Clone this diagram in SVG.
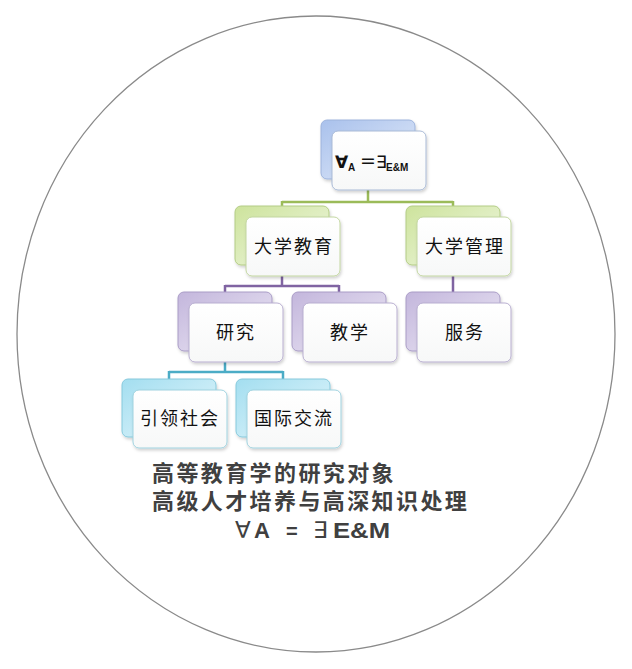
<svg xmlns="http://www.w3.org/2000/svg" width="632" height="669" viewBox="0 0 632 669">
<defs>
<linearGradient id="gB" x1="0" y1="0" x2="1" y2="1"><stop offset="0" stop-color="#a9c1ec"/><stop offset="1" stop-color="#e4ecfa"/></linearGradient>
<linearGradient id="gG" x1="0" y1="0" x2="1" y2="1"><stop offset="0" stop-color="#cde39c"/><stop offset="1" stop-color="#f1f8e4"/></linearGradient>
<linearGradient id="gP" x1="0" y1="0" x2="1" y2="1"><stop offset="0" stop-color="#c3b6dc"/><stop offset="1" stop-color="#eeeaf6"/></linearGradient>
<linearGradient id="gT" x1="0" y1="0" x2="1" y2="1"><stop offset="0" stop-color="#a3def0"/><stop offset="1" stop-color="#e6f7fc"/></linearGradient>
<linearGradient id="gF" x1="0" y1="0" x2="0" y2="1"><stop offset="0" stop-color="#ffffff"/><stop offset="1" stop-color="#f7f8f8"/></linearGradient>
<filter id="sh" x="-10%" y="-10%" width="125%" height="130%"><feDropShadow dx="1" dy="2" stdDeviation="1.5" flood-color="#000" flood-opacity="0.18"/></filter>
</defs>
<style>
.back{stroke-width:1;filter:url(#sh)}
.front{fill:url(#gF);stroke-width:1;filter:url(#sh)}
.b .back{fill:url(#gB);stroke:#9db3dc}
.b .front{stroke:#a9bad6}
.g .back{fill:url(#gG);stroke:#b3cc85}
.g .front{stroke:#c2d6a0}
.p .back{fill:url(#gP);stroke:#a99cc6}
.p .front{stroke:#b8aed0}
.t .back{fill:url(#gT);stroke:#86c9dc}
.t .front{stroke:#9fd2df}
.lbl{font-family:"Noto Sans CJK SC","Noto Sans",sans-serif;font-size:18px;letter-spacing:2px;fill:#111;text-anchor:middle}
.conn{fill:none;stroke-width:2.5}
.big{font-family:"Noto Sans CJK SC","Noto Sans",sans-serif;font-weight:bold;font-size:22px;letter-spacing:2.4px;fill:#404040}
.sym{font-family:"DejaVu Sans",sans-serif;fill:#111}
.sub{font-family:"Liberation Sans",Arial,sans-serif;font-weight:bold;font-size:10px;fill:#111}
.f3{font-family:"Liberation Sans",Arial,sans-serif;font-weight:bold;font-size:22px;fill:#404040}
.s3{font-family:"DejaVu Sans",sans-serif;font-size:23px;font-weight:normal;fill:#404040}
</style>
<ellipse cx="316" cy="334" rx="299" ry="318" fill="#fff" stroke="#8a8a8a" stroke-width="1.3"/>
<g id="connectors">
<path class="conn" stroke="#9bbb59" d="M368,190 V202 M282,202 H453 M282,201 V207 M453,201 V207"/>
<path class="conn" stroke="#8064a2" d="M282,276 V286 M225,286 H339 M225,285 V293 M339,285 V293 M453,276 V293"/>
<path class="conn" stroke="#4bacc6" d="M225,362 V372 M169,372 H283 M169,371 V380 M283,371 V380"/>
</g>
<g id="n-top" class="b">
<rect class="back" x="321" y="120" width="94" height="59" rx="6"/>
<rect class="front" x="332" y="131" width="94" height="59" rx="6"/>
<text class="sym" x="335" y="168" font-size="17" font-weight="bold">∀</text>
<text class="sub" x="348" y="171">A</text>
<text class="sym" x="360" y="167" font-size="19">=</text>
<text class="sym" x="376" y="168" font-size="17">∃</text>
<text class="sub" x="386" y="171">E&amp;M</text>
</g>
<g id="n-jiaoyu" class="g">
<rect class="back" x="235" y="206" width="94" height="59" rx="6"/>
<rect class="front" x="246" y="217" width="94" height="59" rx="6"/>
<text class="lbl" x="294" y="253">大学教育</text>
</g>
<g id="n-guanli" class="g">
<rect class="back" x="406" y="206" width="94" height="59" rx="6"/>
<rect class="front" x="417" y="217" width="94" height="59" rx="6"/>
<text class="lbl" x="465" y="253">大学管理</text>
</g>
<g id="n-yanjiu" class="p">
<rect class="back" x="178" y="292" width="94" height="59" rx="6"/>
<rect class="front" x="189" y="303" width="94" height="59" rx="6"/>
<text class="lbl" x="236" y="339">研究</text>
</g>
<g id="n-jiaoxue" class="p">
<rect class="back" x="292" y="292" width="94" height="59" rx="6"/>
<rect class="front" x="303" y="303" width="94" height="59" rx="6"/>
<text class="lbl" x="350" y="339">教学</text>
</g>
<g id="n-fuwu" class="p">
<rect class="back" x="406" y="292" width="94" height="59" rx="6"/>
<rect class="front" x="417" y="303" width="94" height="59" rx="6"/>
<text class="lbl" x="465" y="339">服务</text>
</g>
<g id="n-yinling" class="t">
<rect class="back" x="122" y="379" width="94" height="58" rx="6"/>
<rect class="front" x="133" y="390" width="94" height="58" rx="6"/>
<text class="lbl" x="180" y="425">引领社会</text>
</g>
<g id="n-guoji" class="t">
<rect class="back" x="236" y="379" width="94" height="58" rx="6"/>
<rect class="front" x="247" y="390" width="94" height="58" rx="6"/>
<text class="lbl" x="294" y="425">国际交流</text>
</g>
<g id="caption">
<text class="big"><tspan x="152" y="481">高等教育学的研究对象</tspan><tspan x="152" y="509">高级人才培养与高深知识处理</tspan></text>
<text class="f3" y="538"><tspan class="s3" x="235">∀</tspan><tspan x="254">A</tspan><tspan x="286" font-size="20">=</tspan><tspan class="s3" x="313">∃</tspan><tspan x="333" textLength="57" lengthAdjust="spacingAndGlyphs">E&amp;M</tspan></text>
</g>
</svg>
